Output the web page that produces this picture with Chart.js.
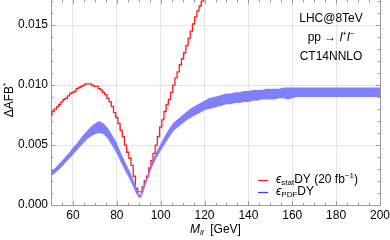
<!DOCTYPE html>
<html>
<head>
<meta charset="utf-8">
<script src="https://cdn.jsdelivr.net/npm/chart.js@4/dist/chart.umd.min.js"></script>
<style>
  html, body { margin: 0; padding: 0; background: #fff; }
  #wrap { width: 390px; height: 240px; }
</style>
</head>
<body>
<div id="wrap"><canvas id="afbChart" width="390" height="240"></canvas></div>
<script>
// data
const statMass = [50,51,52,53,54,55,56,57,58,59,60,61,62,63,64,65,66,67,68,69,70,71,72,73,74,75,76,77,78,79,80,81,82,83,84,85,86,87,88,89,90,91,92,93,94,95,96,97,98,99,100,101,102,103,104,105,106,107,108,109,110,111,112,113,114,115,116,117,118,119,120,121];
const statErr = [0.0075,0.0078,0.0080,0.0082,0.0084,0.0086,0.0088,0.0089,0.0091,0.0093,0.0094,0.0095,0.0097,0.0098,0.0099,0.0100,0.0101,0.0101,0.0101,0.0100,0.0099,0.0099,0.0097,0.0096,0.0094,0.0092,0.0089,0.0086,0.0082,0.0077,0.0073,0.0068,0.0062,0.0057,0.0050,0.0044,0.0039,0.0033,0.0024,0.0014,0.0011,0.0011,0.0015,0.0020,0.0024,0.0031,0.0037,0.0043,0.0050,0.0057,0.0065,0.0071,0.0078,0.0084,0.0088,0.0094,0.0100,0.0106,0.0111,0.0117,0.0122,0.0127,0.0133,0.0139,0.0145,0.0151,0.0157,0.0162,0.0166,0.0170,0.0174,0.0178];

const pdfMass = [50,52,54,56,58,60,62,64,66,68,70,72,74,76,78,80,82,84,86,88,89,90,91,92,94,96,98,100,102,104,106,108,110,112,114,116,118,120,122,124,126,128,130,132,134,136,138,140,142,144,146,148,150,152,154,156,158,160,162,164,166,168,170,172,174,176,178,180,182,184,186,188,190,192,194,196,198,200];
const pdfLow = [0.0024,0.0027,0.0030,0.0034,0.0038,0.0042,0.0046,0.0050,0.0054,0.0057,0.0059,0.0060,0.0059,0.0055,0.0049,0.0043,0.0035,0.0028,0.0021,0.0013,0.0009,0.0006,0.0006,0.0010,0.0021,0.0031,0.0039,0.0045,0.0051,0.0057,0.0062,0.0065,0.0068,0.0071,0.0073,0.0075,0.0077,0.0079,0.0080,0.0081,0.0082,0.0083,0.0084,0.0084,0.0085,0.0085,0.0086,0.0086,0.0087,0.0087,0.0088,0.0088,0.0088,0.0088,0.0089,0.0089,0.0088,0.0089,0.0090,0.0090,0.0090,0.0090,0.0090,0.0090,0.0090,0.0090,0.0090,0.0090,0.0090,0.0090,0.0090,0.0090,0.0090,0.0090,0.0090,0.0090,0.0090,0.0090];
const pdfHigh = [0.0028,0.0031,0.0035,0.0039,0.0043,0.0048,0.0052,0.0057,0.0061,0.0065,0.0068,0.0070,0.0068,0.0064,0.0058,0.0052,0.0043,0.0035,0.0028,0.0019,0.0014,0.0009,0.0009,0.0014,0.0025,0.0036,0.0044,0.0051,0.0058,0.0064,0.0069,0.0072,0.0075,0.0078,0.0081,0.0083,0.0085,0.0087,0.0089,0.0090,0.0091,0.0092,0.0093,0.0093,0.0094,0.0094,0.0095,0.0095,0.0096,0.0096,0.0096,0.0097,0.0097,0.0097,0.0097,0.0098,0.0098,0.0098,0.0098,0.0098,0.0098,0.0098,0.0098,0.0098,0.0098,0.0098,0.0098,0.0098,0.0098,0.0098,0.0098,0.0098,0.0098,0.0098,0.0098,0.0098,0.0098,0.0098];

const xTicks = [60, 80, 100, 120, 140, 160, 180, 200];
const yTicks = [0, 0.005, 0.010, 0.015];

const FONT = "'Liberation Sans', Arial, sans-serif";
const RED = "#ff1a1a";
const BLUE = "#8080ff";

function toPts(xs, ys) { return xs.map((x, i) => ({ x, y: ys[i] })); }

// draw a run of pieces [text, font, dy] starting at x
function richText(ctx, pieces, x, y) {
    for (const [t, f, dy] of pieces) {
        ctx.font = f;
        ctx.fillText(t, x, y + dy);
        x += ctx.measureText(t).width;
    }
}
function richWidth(ctx, pieces) {
    let w = 0;
    for (const [t, f] of pieces) { ctx.font = f; w += ctx.measureText(t).width; }
    return w;
}

const decorations = {
    id: "decorations",
    afterDraw(chart) {
        const ctx = chart.ctx;
        const { left, right, top, bottom } = chart.chartArea;
        const xs = chart.scales.x, ys = chart.scales.y;
        ctx.save();

        // frame + inward ticks
        ctx.strokeStyle = "#9a9a9a";
        ctx.lineWidth = 1;
        ctx.beginPath();
        ctx.moveTo(right + 0.5, top); ctx.lineTo(right + 0.5, bottom);
        ctx.stroke();
        ctx.beginPath();
        for (let v = 50; v <= 200; v += 5) {
            const p = Math.round(xs.getPixelForValue(v)) + 0.5;
            const len = v % 20 === 0 ? 4 : 2.5;
            ctx.moveTo(p, bottom); ctx.lineTo(p, bottom - len);
            ctx.moveTo(p, top); ctx.lineTo(p, top + len);
        }
        for (let k = 0; k <= 17; k++) {
            const p = Math.round(ys.getPixelForValue(k * 0.001)) + 0.5;
            const len = k % 5 === 0 ? 4 : 2.5;
            ctx.moveTo(left, p); ctx.lineTo(left + len, p);
            ctx.moveTo(right, p); ctx.lineTo(right - len, p);
        }
        ctx.stroke();

        ctx.fillStyle = "#000";
        ctx.textBaseline = "middle";
        ctx.textAlign = "left";
        const f12 = "12px " + FONT, f8 = "8px " + FONT;
        const i12 = "italic 12px " + FONT, i8 = "italic 8px " + FONT;

        // y title
        ctx.save();
        ctx.translate(10, 100);
        ctx.rotate(-Math.PI / 2);
        const yt = [["\u0394AFB", f12, 0], ["*", f8, -4]];
        richText(ctx, yt, -richWidth(ctx, yt) / 2, 0);
        ctx.restore();

        // x title
        richText(ctx, [["M", i12, 0], ["ll", i8, 3], ["  [GeV]", f12, 0]], 190, 230);

        // process info
        const info = [
            [["LHC@8TeV", f12, 0]],
            [["pp \u2192 ", f12, 0], ["l", i12, 0], ["+", f8, -4], ["l", i12, 0], ["\u2212", f8, -4]],
            [["CT14NNLO", f12, 0]]
        ];
        info.forEach((row, i) => richText(ctx, row, 331 - richWidth(ctx, row) / 2, 19 + i * 19));

        // legend
        ctx.lineWidth = 1.2;
        ctx.strokeStyle = RED;
        ctx.beginPath(); ctx.moveTo(258, 180.5); ctx.lineTo(268, 180.5); ctx.stroke();
        ctx.strokeStyle = "#3b3bff";
        ctx.beginPath(); ctx.moveTo(258, 192.5); ctx.lineTo(268, 192.5); ctx.stroke();
        richText(ctx, [
            ["\u03F5", i12, 0], ["stat", f8, 3], ["DY (20 fb", f12, 0], ["\u22121", f8, -4], [")", f12, 0]
        ], 276, 180);
        richText(ctx, [["\u03F5", i12, 0], ["PDF", f8, 3], ["DY", f12, 0]], 276, 192);

        ctx.restore();
    }
};

new Chart(document.getElementById("afbChart"), {
    type: "line",
    data: {
        datasets: [
            {
                label: "pdf low",
                data: toPts(pdfMass, pdfLow),
                borderWidth: 0,
                pointRadius: 0,
                fill: false
            },
            {
                label: "pdf high",
                data: toPts(pdfMass, pdfHigh),
                borderWidth: 0,
                pointRadius: 0,
                backgroundColor: BLUE,
                fill: "-1"
            },
            {
                label: "stat",
                data: toPts(statMass, statErr),
                borderColor: RED,
                borderWidth: 1.3,
                pointRadius: 0,
                stepped: "middle",
                fill: false
            }
        ]
    },
    options: {
        responsive: false,
        animation: false,
        layout: { padding: { top: 0, right: 10, left: 0, bottom: 0 } },
        plugins: { legend: { display: false }, tooltip: { enabled: false } },
        scales: {
            x: {
                type: "linear",
                min: 50,
                max: 200,
                afterBuildTicks: s => { s.ticks = xTicks.map(v => ({ value: v })); },
                afterFit: s => { s.height = 35; s.paddingLeft = 0; s.paddingRight = 0; },
                ticks: { color: "#000", font: { family: FONT, size: 12 }, padding: 3, maxRotation: 0 },
                grid: { color: "#e4e4e4", drawTicks: false },
                border: { color: "#9a9a9a" }
            },
            y: {
                min: 0,
                max: 0.0171,
                afterBuildTicks: s => { s.ticks = yTicks.map(v => ({ value: v })); },
                afterFit: s => { s.width = 51; s.paddingTop = 0; s.paddingBottom = 0; },
                ticks: {
                    color: "#000",
                    font: { family: FONT, size: 12 },
                    padding: 3,
                    callback: v => v.toFixed(3)
                },
                grid: { color: "#e4e4e4", drawTicks: false },
                border: { color: "#9a9a9a" }
            }
        }
    },
    plugins: [decorations]
});
</script>
</body>
</html>
